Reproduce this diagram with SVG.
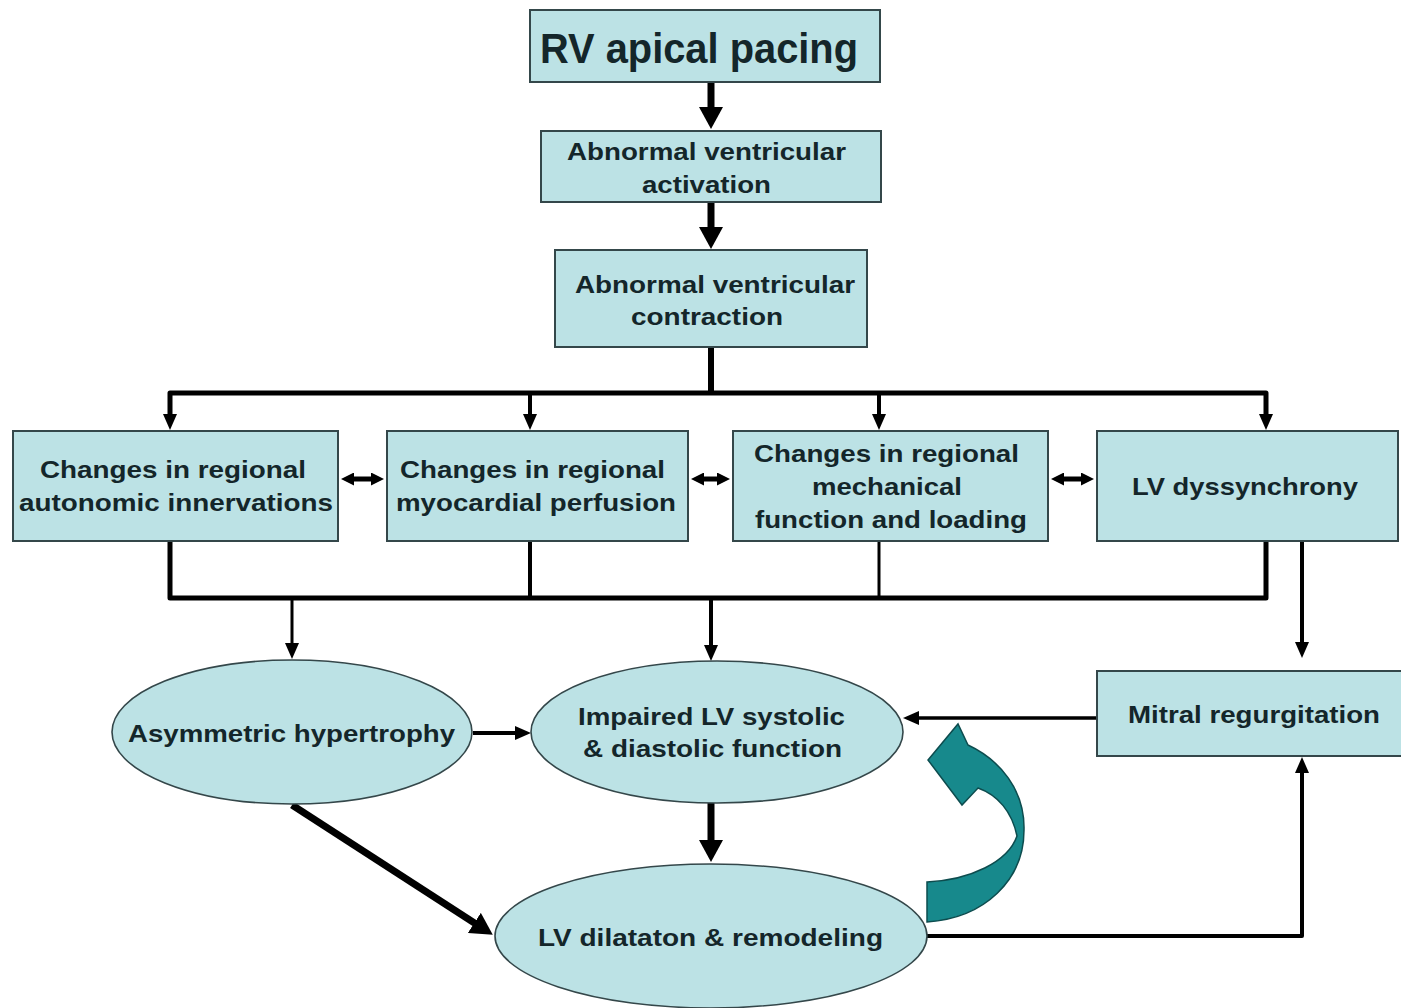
<svg xmlns="http://www.w3.org/2000/svg" width="1401" height="1008" viewBox="0 0 1401 1008">
<style>
.box{fill:#bce2e5;stroke:#34474a;stroke-width:2}
.ell{fill:#bce2e5;stroke:#34474a;stroke-width:1.6}
.t{font-family:"Liberation Sans",Arial,sans-serif;font-weight:bold;font-size:24px;fill:#14262a;text-anchor:middle}
.big{font-size:42px}
.c{fill:none;stroke:#000;stroke-linejoin:round}
</style>
<defs>
<marker id="hb" viewBox="0 0 22 24" markerWidth="22" markerHeight="24" refX="2" refY="12" orient="auto-start-reverse" markerUnits="userSpaceOnUse"><path d="M0,0 L22,12 L0,24 Z" fill="#000"/></marker>
<marker id="hm" viewBox="0 0 16 14" markerWidth="16" markerHeight="14" refX="2" refY="7" orient="auto-start-reverse" markerUnits="userSpaceOnUse"><path d="M0,0 L16,7 L0,14 Z" fill="#000"/></marker>
<marker id="hs" viewBox="0 0 13 13" markerWidth="13" markerHeight="13" refX="2" refY="6.5" orient="auto-start-reverse" markerUnits="userSpaceOnUse"><path d="M0,0 L13,6.5 L0,13 Z" fill="#000"/></marker>
</defs>
<rect width="1401" height="1008" fill="#fff"/>

<g id="connectors">
<path class="c" d="M711 83 V109" stroke-width="7" marker-end="url(#hb)"/>
<path class="c" d="M711 202 V229" stroke-width="7" marker-end="url(#hb)"/>
<path class="c" d="M711 347 V393" stroke-width="6"/>
<path class="c" d="M170 416 V393 H1266 V416" stroke-width="5" marker-start="url(#hm)" marker-end="url(#hm)"/>
<path class="c" d="M530 393 V416" stroke-width="4" marker-end="url(#hm)"/>
<path class="c" d="M879 393 V416" stroke-width="4" marker-end="url(#hm)"/>
<path class="c" d="M352 479 H373" stroke-width="5" marker-start="url(#hs)" marker-end="url(#hs)"/>
<path class="c" d="M702 479 H719" stroke-width="5" marker-start="url(#hs)" marker-end="url(#hs)"/>
<path class="c" d="M1062 479 H1083" stroke-width="5" marker-start="url(#hs)" marker-end="url(#hs)"/>
<path class="c" d="M170 541 V598 H1266 V541" stroke-width="5"/>
<path class="c" d="M530 541 V598" stroke-width="4"/>
<path class="c" d="M879 541 V598" stroke-width="3"/>
<path class="c" d="M292 598 V645" stroke-width="3" marker-end="url(#hm)"/>
<path class="c" d="M711 598 V647" stroke-width="4" marker-end="url(#hm)"/>
<path class="c" d="M1302 541 V644" stroke-width="4" marker-end="url(#hm)"/>
<path class="c" d="M1097 718 H917" stroke-width="3.5" marker-end="url(#hm)"/>
<path class="c" d="M473 733 H517" stroke-width="4" marker-end="url(#hm)"/>
<path class="c" d="M711 803 V842" stroke-width="7" marker-end="url(#hb)"/>
<path class="c" d="M292 805 L476 924" stroke-width="7" marker-end="url(#hb)"/>
<path class="c" d="M927 936 H1302 V771" stroke-width="4" marker-end="url(#hm)"/>
<path d="M927 882 C970 880 1008 862 1017 836 C1012 812 998 795 978 788 L962 805 L928 760 L958 724 L968 745 C1000 760 1025 790 1024 830 C1024 880 985 918 927 922 Z" fill="#17898c" stroke="#0d4c4e" stroke-width="1.5"/>
</g>

<g id="rv_apical_pacing">
<rect class="box" x="530" y="10" width="350" height="72"/>
<text class="t big" x="699" y="63" textLength="318" lengthAdjust="spacingAndGlyphs">RV apical pacing</text>
</g>
<g id="abnormal_activation">
<rect class="box" x="541" y="131" width="340" height="71"/>
<text class="t" x="706.5" y="160" textLength="279" lengthAdjust="spacingAndGlyphs">Abnormal ventricular</text>
<text class="t" x="706.5" y="193" textLength="129" lengthAdjust="spacingAndGlyphs">activation</text>
</g>
<g id="abnormal_contraction">
<rect class="box" x="555" y="250" width="312" height="97"/>
<text class="t" x="715" y="293" textLength="280" lengthAdjust="spacingAndGlyphs">Abnormal ventricular</text>
<text class="t" x="707" y="325" textLength="152" lengthAdjust="spacingAndGlyphs">contraction</text>
</g>
<g id="autonomic">
<rect class="box" x="13" y="431" width="325" height="110"/>
<text class="t" x="173" y="478" textLength="266" lengthAdjust="spacingAndGlyphs">Changes in regional</text>
<text class="t" x="176" y="511" textLength="314" lengthAdjust="spacingAndGlyphs">autonomic innervations</text>
</g>
<g id="perfusion">
<rect class="box" x="387" y="431" width="301" height="110"/>
<text class="t" x="532.5" y="478" textLength="265" lengthAdjust="spacingAndGlyphs">Changes in regional</text>
<text class="t" x="536" y="511" textLength="280" lengthAdjust="spacingAndGlyphs">myocardial perfusion</text>
</g>
<g id="mechanical">
<rect class="box" x="733" y="431" width="315" height="110"/>
<text class="t" x="886.5" y="462" textLength="265" lengthAdjust="spacingAndGlyphs">Changes in regional</text>
<text class="t" x="887" y="495" textLength="150" lengthAdjust="spacingAndGlyphs">mechanical</text>
<text class="t" x="891" y="528" textLength="272" lengthAdjust="spacingAndGlyphs">function and loading</text>
</g>
<g id="dyssynchrony">
<rect class="box" x="1097" y="431" width="301" height="110"/>
<text class="t" x="1245" y="495" textLength="226" lengthAdjust="spacingAndGlyphs">LV dyssynchrony</text>
</g>
<g id="mitral">
<rect class="box" x="1097" y="671" width="306" height="85"/>
<text class="t" x="1254" y="723" textLength="252" lengthAdjust="spacingAndGlyphs">Mitral regurgitation</text>
</g>
<g id="hypertrophy">
<ellipse class="ell" cx="292" cy="732" rx="180" ry="72"/>
<text class="t" x="291.5" y="742" textLength="327" lengthAdjust="spacingAndGlyphs">Asymmetric hypertrophy</text>
</g>
<g id="impaired">
<ellipse class="ell" cx="717" cy="732" rx="186" ry="71"/>
<text class="t" x="711.5" y="725" textLength="267" lengthAdjust="spacingAndGlyphs">Impaired LV systolic</text>
<text class="t" x="712.5" y="757" textLength="259" lengthAdjust="spacingAndGlyphs">&amp; diastolic function</text>
</g>
<g id="dilatation">
<ellipse class="ell" cx="711" cy="936" rx="216" ry="72"/>
<text class="t" x="710.5" y="946" textLength="345" lengthAdjust="spacingAndGlyphs">LV dilataton &amp; remodeling</text>
</g>
</svg>
